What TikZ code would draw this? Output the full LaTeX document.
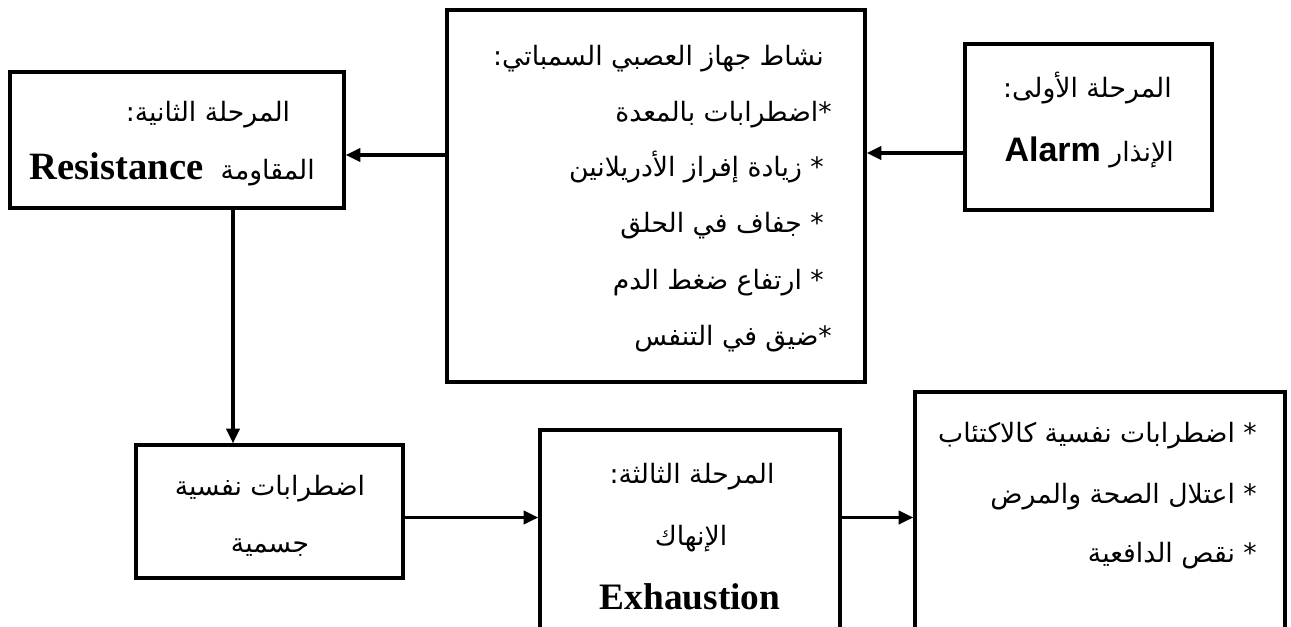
\documentclass[tikz,border=0pt]{standalone}
\usepackage{fontspec}
\usetikzlibrary{arrows.meta,calc,fit}
\TeXXeTstate=1
\newfontfamily\arabicfont[Script=Arabic]{DejaVu Sans}
\newfontfamily\alarmfont{Liberation Sans}
\newfontfamily\stagefont{Liberation Serif}

\begin{document}
\begin{tikzpicture}[x=0.75pt,y=-0.75pt,
  box/.style={draw, line width=2.6pt, inner sep=0pt},
  link/.style={line width=2.3pt, -{Triangle[length=11pt,width=10pt]}},
  artxt/.style={inner sep=0pt, font=\arabicfont\fontsize{20}{24}\selectfont},
  latbold/.style={font=\stagefont\bfseries\fontsize{28}{32}\selectfont},
]
\useasboundingbox (0,0) rectangle (1291,627);
\clip (0,0) rectangle (1291,627);

% frames
\node[box, fit={(965,44) (1212,210)}] (alarm) {};
\node[box, fit={(447,10) (865,382)}] (sym) {};
\node[box, fit={(10,72) (344,208)}] (resist) {};
\node[box, fit={(136,445) (403,578)}] (psycho) {};
\node[box, fit={(540,430) (840,700)}] (exhaust) {};
\node[box, fit={(915,392) (1285,700)}] (outcome) {};

% stage one
\node[artxt, anchor=base east] (al1) at (1172,98) {\beginR المرحلة الأولى:\endR};
\node[artxt, anchor=base east] (al2) at (1174,162)
  {\beginR الإنذار \beginL{\alarmfont\bfseries\fontsize{25.5}{29}\selectfont Alarm}\endL\endR};

% sympathetic activity
\node[artxt, anchor=base east] (sy1) at (824,66) {\beginR نشاط جهاز العصبي السمباتي:\endR};
\node[artxt, anchor=base east] (sy2) at (832,122) {\beginR *اضطرابات بالمعدة\endR};
\node[artxt, anchor=base east] (sy3) at (824,177) {\beginR * زيادة إفراز الأدريلانين\endR};
\node[artxt, anchor=base east] (sy4) at (824,233) {\beginR * جفاف في الحلق\endR};
\node[artxt, anchor=base east] (sy5) at (824,289) {\beginR * ارتفاع ضغط الدم\endR};
\node[artxt, anchor=base east] (sy6) at (832,345) {\beginR *ضيق في التنفس\endR};

% stage two
\node[artxt, anchor=base] (re1) at (208,122) {\beginR المرحلة الثانية:\endR};
\node[artxt, anchor=base east] (re2) at (315,180)
  {\beginR المقاومة\ \ \beginL{\stagefont\bfseries\fontsize{29}{33}\selectfont Resistance}\endL\endR};

% psychosomatic disorders
\node[artxt, anchor=base] (ps1) at (270,495) {\beginR اضطرابات نفسية\endR};
\node[artxt, anchor=base] (ps2) at (270,552) {\beginR جسمية\endR};

% stage three
\node[artxt, anchor=base] (ex1) at (692,483) {\beginR المرحلة الثالثة:\endR};
\node[artxt, anchor=base] (ex2) at (691,545) {\beginR الإنهاك\endR};
\node[latbold, inner sep=0pt, anchor=base] (ex3) at (690,609) {Exhaustion};

% outcomes
\node[artxt, anchor=base east] (ou1) at (1257,442) {\beginR * اضطرابات نفسية كالاكتئاب\endR};
\node[artxt, anchor=base east] (ou2) at (1257,503) {\beginR * اعتلال الصحة والمرض\endR};
\node[artxt, anchor=base east] (ou3) at (1257,562) {\beginR * نقص الدافعية\endR};

% connectors
\coordinate (a1) at ($(alarm.west)+(0,26)$);
\draw[link] (a1) -- (a1 -| sym.east);
\coordinate (a2) at ($(sym.west)+(0,-41)$);
\draw[link] (a2) -- (a2 -| resist.east);
\coordinate (a3) at ($(resist.south)+(56,0)$);
\draw[link] (a3) -- (a3 |- psycho.north);
\coordinate (a4) at ($(psycho.east)+(0,6)$);
\draw[link] (a4) -- (a4 -| exhaust.west);
\coordinate (a5) at (a4 -| exhaust.east);
\draw[link] (a5) -- (a5 -| outcome.west);
\end{tikzpicture}
\end{document}
